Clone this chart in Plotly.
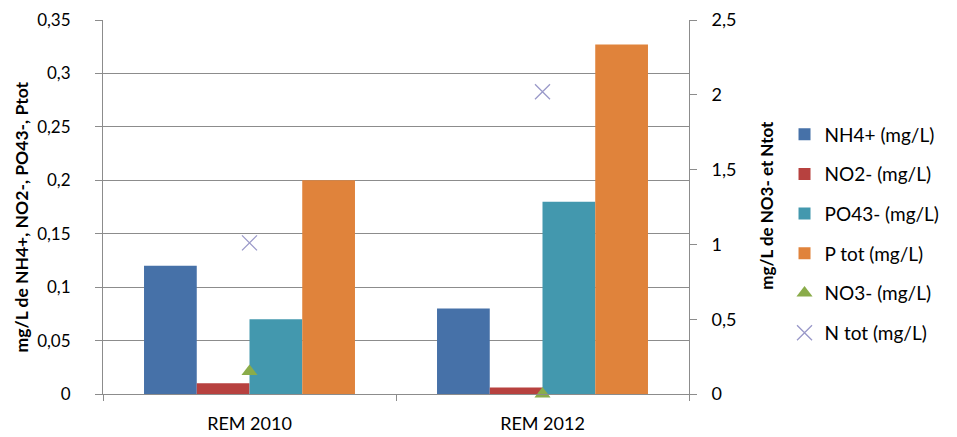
import plotly.graph_objects as go

categories = ["REM 2010", "REM 2012"]
nh4 = [0.12, 0.08]
no2 = [0.01, 0.006]
po43 = [0.07, 0.18]
ptot = [0.20, 0.327]
no3 = [0.15, 0.0]
ntot = [1.01, 2.02]

FONT = "Lato"
fig = go.Figure()
bar_specs = [
    ("NH4+ (mg/L)", nh4, "#4671a8"),
    ("NO2- (mg/L)", no2, "#b7413f"),
    ("PO43- (mg/L)", po43, "#4398ae"),
    ("P tot (mg/L)", ptot, "#e0833b"),
]
for i, (name, vals, col) in enumerate(bar_specs):
    fig.add_trace(go.Bar(x=categories, y=vals, name=name, marker_color=col,
                         marker_line_width=0, legendgroup=str(i)))
fig.add_trace(go.Scatter(x=categories, y=no3, name="NO3- (mg/L)", mode="markers",
                         yaxis="y2", cliponaxis=False, legendgroup="4",
                         marker=dict(symbol="triangle-up", size=14, color="#8aac4a")))
fig.add_trace(go.Scatter(x=categories, y=ntot, name="N tot (mg/L)", mode="markers",
                         yaxis="y2", cliponaxis=False, legendgroup="5",
                         marker=dict(symbol="x-thin", size=15, color="#9a99c9",
                                     line=dict(width=1.3, color="#9a99c9"))))

fig.update_layout(
    width=957, height=437,
    margin=dict(l=103, r=258, t=20, b=43),
    paper_bgcolor="white", plot_bgcolor="white",
    separators=", ",
    font=dict(family=FONT, size=18, color="#000000"),
    barmode="group", bargap=0.28, bargroupgap=0,
    showlegend=True,
    legend=dict(x=1.163, y=0.745, xanchor="left", yanchor="top",
                traceorder="grouped", tracegroupgap=12, itemwidth=30,
                font=dict(family=FONT, size=19, color="#000000"),
                bgcolor="rgba(0,0,0,0)"),
    xaxis=dict(type="category", showline=True, linecolor="#8c8c8c", linewidth=1,
               ticks="outside", tickson="boundaries", ticklen=6, tickcolor="#8c8c8c",
               showgrid=False, tickfont=dict(size=18), ticklabelstandoff=13,
               automargin=False),
    yaxis=dict(range=[0, 0.35], dtick=0.05, showline=True, linecolor="#8c8c8c",
               linewidth=1, ticks="outside", ticklen=7, tickcolor="#8c8c8c",
               showgrid=True, gridcolor="#8c8c8c", gridwidth=1, zeroline=False,
               tickfont=dict(size=17), ticklabelstandoff=21, automargin=False),
    yaxis2=dict(range=[0, 2.5], dtick=0.5, overlaying="y", side="right",
                showline=True, linecolor="#8c8c8c", linewidth=1, ticks="outside",
                ticklen=7, tickcolor="#8c8c8c", showgrid=False, zeroline=False,
                tickfont=dict(size=18), ticklabelstandoff=11, automargin=False),
)
fig.add_annotation(text="<b>mg/L de NH4+, NO2-, PO43-, Ptot</b>", xref="paper", yref="paper",
                   x=(20 - 103) / 596, y=(394 - 217) / 374, showarrow=False, textangle=-90,
                   font=dict(size=17.5), xanchor="center", yanchor="middle")
fig.add_annotation(text="<b>mg/L de NO3- et Ntot</b>", xref="paper", yref="paper",
                   x=(777 - 103) / 596, y=(394 - 205) / 374, showarrow=False, textangle=-90,
                   font=dict(size=17), xanchor="center", yanchor="middle")
fig.write_html("out.html")
